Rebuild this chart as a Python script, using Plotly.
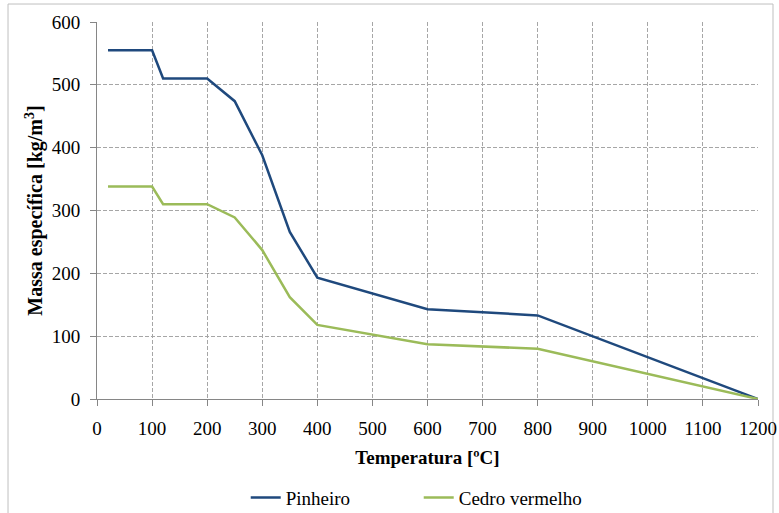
import plotly.graph_objects as go

temp_pinheiro = [20, 100, 120, 200, 250, 300, 350, 400, 600, 800, 1200]
pinheiro = [555, 555, 510, 510, 474, 388, 266, 193, 143, 133, 0]
temp_cedro = [20, 100, 120, 200, 250, 300, 350, 400, 600, 800, 1200]
cedro = [338, 338, 310, 310, 289, 237, 162, 118, 87, 80, 0]

FF = "Liberation Serif"

def f(size=19):
    return dict(family=FF, size=size, color="black")

fig = go.Figure()
fig.add_trace(go.Scatter(x=temp_pinheiro, y=pinheiro, mode="lines", name="Pinheiro",
                         line=dict(color="#1f497d", width=2.5)))
fig.add_trace(go.Scatter(x=temp_cedro, y=cedro, mode="lines", name="Cedro vermelho",
                         line=dict(color="#9bbb59", width=2.5)))

grid = dict(showgrid=True, gridcolor="#a6a6a6", griddash="4px,2px", gridwidth=1,
            showline=True, linecolor="#868686", linewidth=1,
            ticks="outside", ticklen=6, tickcolor="#868686",
            zeroline=False, tickfont=f(), automargin=False)

fig.update_layout(
    width=779, height=513,
    margin=dict(l=97, r=21, t=22, b=114, autoexpand=False),
    paper_bgcolor="white", plot_bgcolor="white",
    font=f(),
    showlegend=True,
    legend=dict(orientation="h", x=0.225, xanchor="left", y=-0.262, yanchor="middle",
                font=f(), itemwidth=30, tracegroupgap=0, entrywidth=128, entrywidthmode="pixels"),
    xaxis=dict(range=[0, 1200], dtick=100, tick0=0, ticklabelstandoff=6,
               title=dict(text="<b>Temperatura [ºC]</b>", font=f(), standoff=12), **grid),
    yaxis=dict(range=[0, 600], dtick=100, ticklabelstandoff=6,
               title=dict(text="<b>Massa específica [kg/m<sup>3</sup>]</b>", font=f(20), standoff=3), **grid),
    shapes=[dict(type="rect", xref="paper", yref="paper",
                 x0=-0.1346, x1=1.0227, y0=-0.35, y1=1.0477,
                 line=dict(color="#bfbfbf", width=1), layer="below")],
)

fig.write_html("out.html")
